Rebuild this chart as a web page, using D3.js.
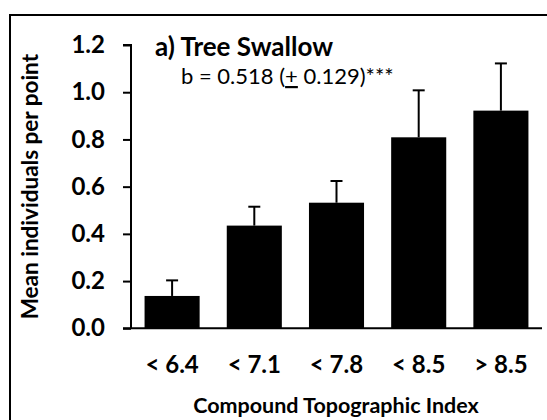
<!DOCTYPE html>
<html><head><meta charset="utf-8">
<script src="https://cdn.jsdelivr.net/npm/d3@7"></script>
<style>body{margin:0;background:#fff}svg{display:block}</style>
</head><body>
<svg id="chart" width="547" height="420"></svg>
<script>
const categories = ["< 6.4", "< 7.1", "< 7.8", "< 8.5", "> 8.5"];
const means = [0.137, 0.435, 0.532, 0.809, 0.922];
const errorTops = [0.203, 0.515, 0.624, 1.008, 1.122];
const yTicks = [0, 0.2, 0.4, 0.6, 0.8, 1.0, 1.2];
const titleText = "a) Tree Swallow";
const yTitle = "Mean individuals per point";
const xTitle = "Compound Topographic Index";

const svg = d3.select("#chart");
const font = "Lato, 'Open Sans', sans-serif";

// outer frame
svg.append("rect").attr("x", 10).attr("y", 15).attr("width", 600).attr("height", 500)
  .attr("fill", "none").attr("stroke", "#000").attr("stroke-width", 2);

const x = d3.scaleBand().domain(categories).range([131, 542]).paddingInner(0.33).paddingOuter(0.165);
const y = d3.scaleLinear().domain([0, 1.2]).range([328.3, 45]);

// bars
svg.append("g").selectAll("rect").data(categories).join("rect")
  .attr("x", d => x(d)).attr("width", x.bandwidth())
  .attr("y", (d, i) => y(means[i])).attr("height", (d, i) => y(0) - y(means[i]))
  .attr("fill", "#000");

// error bars
const eg = svg.append("g").attr("stroke", "#000").attr("stroke-width", 2);
categories.forEach((c, i) => {
  const cx = x(c) + x.bandwidth() / 2;
  eg.append("line").attr("x1", cx).attr("x2", cx).attr("y1", y(means[i])).attr("y2", y(errorTops[i]));
  eg.append("line").attr("x1", cx - 6).attr("x2", cx + 6).attr("y1", y(errorTops[i])).attr("y2", y(errorTops[i]));
});

// y axis
const yAxis = svg.append("g").attr("transform", "translate(131,0)")
  .call(d3.axisLeft(y).tickValues(yTicks).tickFormat(d3.format(".1f")).tickSize(8).tickPadding(18));
yAxis.select(".domain").attr("stroke-width", 2).attr("d", `M-8,${y(1.2)}H0V${y(0)}`);
yAxis.selectAll(".tick line").attr("stroke-width", 2);
yAxis.selectAll(".tick text").attr("font-family", font).attr("font-weight", "bold")
  .attr("font-size", 24).attr("fill", "#000");

// x axis
const xAxis = svg.append("g").attr("transform", `translate(0,${y(0)})`)
  .call(d3.axisBottom(x).tickSize(0).tickPadding(28));
xAxis.select(".domain").attr("stroke-width", 2).attr("d", "M123,0H542");
xAxis.selectAll(".tick text").attr("font-family", font).attr("font-weight", "bold")
  .attr("font-size", 24).attr("fill", "#000");

// titles
svg.append("text").attr("x", 155).attr("y", 56).attr("font-family", font).attr("font-weight", "bold")
  .attr("font-size", 26).text(titleText);
const sub = svg.append("text").attr("x", 181).attr("y", 84).attr("font-family", font)
  .attr("font-size", 22);
sub.append("tspan").text("b = 0.518 (");
sub.append("tspan").attr("text-decoration", "underline").text("+");
sub.append("tspan").text(" 0.129)***");

svg.append("text").attr("transform", `translate(38,${(y(0) + y(1.2)) / 2}) rotate(-90)`)
  .attr("text-anchor", "middle").attr("font-family", font).attr("font-weight", "bold")
  .attr("font-size", 22.5).text(yTitle);
svg.append("text").attr("x", 336).attr("y", 413).attr("text-anchor", "middle")
  .attr("font-family", font).attr("font-weight", "bold").attr("font-size", 21.5).text(xTitle);
</script>
</body></html>
